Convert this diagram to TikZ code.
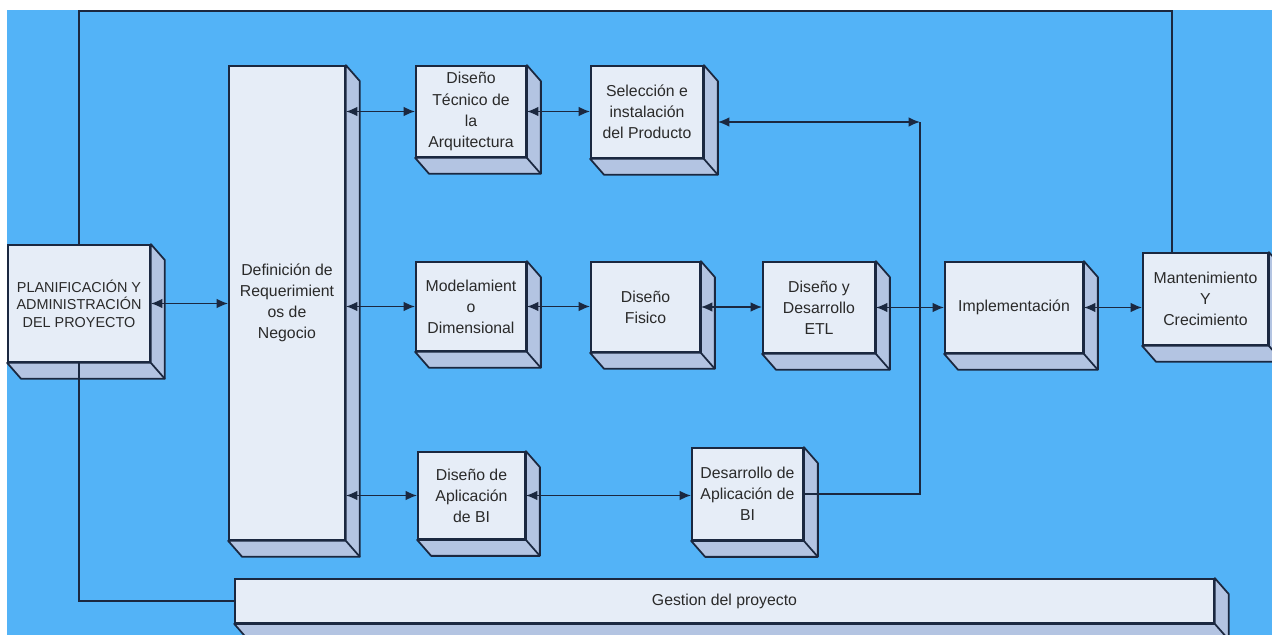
\documentclass[tikz,border=0pt]{standalone}
\usepackage{fontspec}
\setmainfont{Liberation Sans}
\usepackage{tikz}
\usetikzlibrary{calc,arrows.meta}
\definecolor{bgblue}{HTML}{53B3F7}
\definecolor{facefill}{HTML}{E6EDF7}
\definecolor{sidefill}{HTML}{B3C4E2}
\definecolor{edgeblue}{HTML}{1B2840}
\definecolor{textgray}{HTML}{2A2A2A}
\newcommand{\depthof}[1]{%
  \filldraw[sideface] (#1.north east) -- ++(14,16) -- ($(#1.south east)+(14,16)$)
    -- ($(#1.south west)+(14,16)$) -- (#1.south west) -- (#1.south east) -- cycle;
  \draw[sideface] (#1.south east) -- ++(14,16);
}
\tikzset{
  >={Latex[length=6.5pt,width=5.5pt]},
  boxface/.style={draw=edgeblue,fill=facefill,line width=1pt,inner sep=0pt,
    align=center},
  sideface/.style={draw=edgeblue,fill=sidefill,line width=1pt,line join=round},
  link/.style={draw=edgeblue,line width=1pt},
  dlink/.style={link,<->},
}
\begin{document}
\begin{tikzpicture}[x=0.02cm,y=-0.02cm,
  every node/.style={font=\fontsize{9}{12}\selectfont,text=textgray}]
  \useasboundingbox (0,0) rectangle (1272,635);
  \fill[bgblue] (7,10) rectangle (1272,635);
  \node[boxface,minimum width=2.84cm,minimum height=2.34cm,
    font=\fontsize{8.2}{10}\selectfont] (plan) at (79,303.5)
    {PLANIFICACIÓN Y\\ADMINISTRACIÓN\\DEL PROYECTO};
  \node[boxface,minimum width=2.32cm,minimum height=9.48cm] (defreq) at (287,303)
    {Definición de\\Requerimient\\os de\\Negocio};
  \node[boxface,minimum width=2.2cm,minimum height=1.82cm] (tecarq) at (471,111.5)
    {Diseño\\Técnico de\\la\\Arquitectura};
  \node[boxface,minimum width=2.24cm,minimum height=1.84cm] (selprod) at (647,112)
    {Selección e\\instalación\\del Producto};
  \node[boxface,minimum width=2.2cm,minimum height=1.78cm] (modelo) at (471,306.5)
    {Modelamient\\o\\Dimensional};
  \node[boxface,minimum width=2.18cm,minimum height=1.8cm] (fisico) at (645.5,307)
    {Diseño\\Fisico};
  \node[boxface,minimum width=2.24cm,minimum height=1.82cm] (etl) at (819,307.5)
    {Diseño y\\Desarrollo\\ETL};
  \node[boxface,minimum width=2.76cm,minimum height=1.82cm] (impl) at (1014,307.5)
    {Implementación};
  \node[boxface,minimum width=2.5cm,minimum height=1.84cm] (mant) at (1205.5,299)
    {Mantenimiento\\Y\\Crecimiento};
  \node[boxface,minimum width=2.14cm,minimum height=1.74cm] (dapbi) at (471.5,495.5)
    {Diseño de\\Aplicación\\de BI};
  \node[boxface,minimum width=2.22cm,minimum height=1.84cm] (desbi) at (747.5,494)
    {Desarrollo de\\Aplicación de\\BI};
  \node[boxface,minimum width=19.58cm,minimum height=0.88cm] (gestion) at (724.5,601)
    {Gestion del proyecto};
  \foreach \b in {plan,defreq,tecarq,selprod,modelo,fisico,etl,impl,mant,dapbi,desbi,gestion}
    {\depthof{\b}}
  \coordinate (selR) at ($(selprod.east)+(14,10)$);
  \coordinate (ctop) at (920,122);
  \coordinate (topline) at (0,11);
  \coordinate (mtop) at ($(mant.north west)+(30,0)$);
  \draw[dlink] (plan.east) -- (plan.east -| defreq.west);
  \draw[dlink] (tecarq.west -| defreq.east) -- (tecarq.west);
  \draw[dlink] (tecarq.east) -- (tecarq.east -| selprod.west);
  \draw[dlink] (selR) -- (ctop);
  \draw[link] (desbi.east) -| (ctop);
  \draw[dlink] (modelo.west -| defreq.east) -- (modelo.west);
  \draw[dlink] (modelo.east) -- (modelo.east -| fisico.west);
  \draw[dlink] (fisico.east) -- (fisico.east -| etl.west);
  \draw[dlink] (etl.east) -- (etl.east -| impl.west);
  \draw[dlink] (impl.east) -- (impl.east -| mant.west);
  \draw[dlink] (dapbi.west -| defreq.east) -- (dapbi.west);
  \draw[dlink] (dapbi.east) -- (dapbi.east -| desbi.west);
  \draw[link] (plan.south) -- (plan.south |- gestion.west) -- (gestion.west);
  \draw[link] (plan.north) -- (plan.north |- topline) -| (mtop);
\end{tikzpicture}
\end{document}
